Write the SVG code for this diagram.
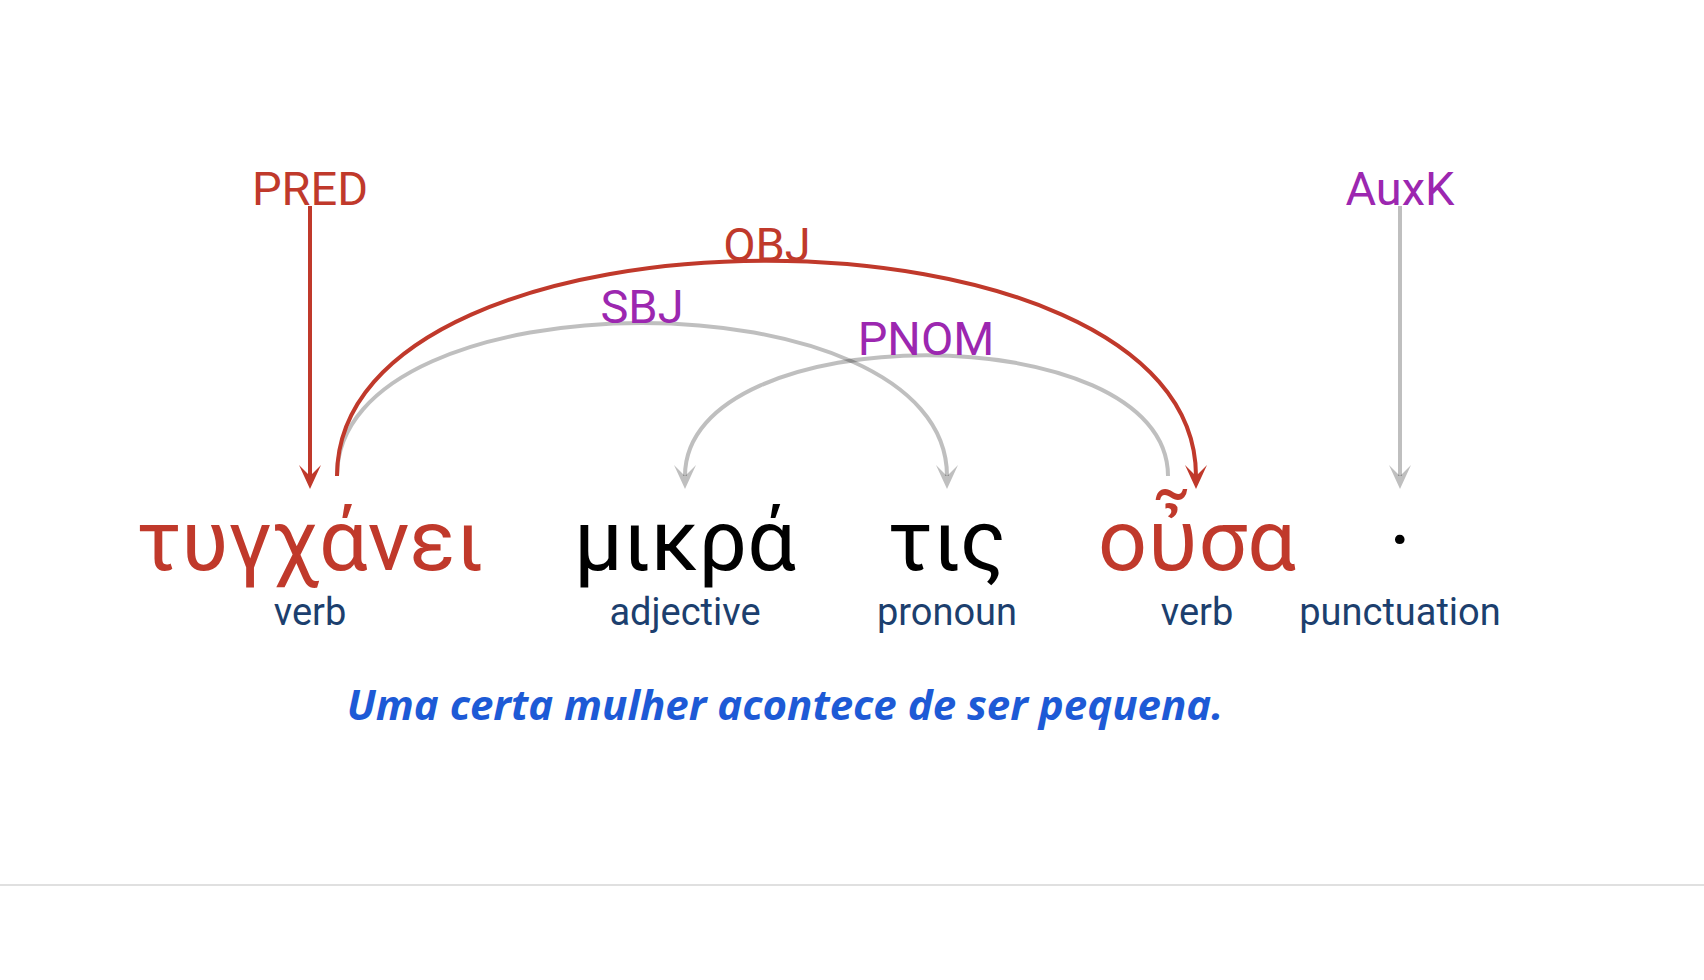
<svg xmlns="http://www.w3.org/2000/svg" width="1704" height="980" viewBox="0 0 1704 980">
<style>
  .word { font-family: Roboto, "Noto Sans", "DejaVu Sans", sans-serif; font-size: 86px; text-anchor: middle; }
  .pos { font-family: Roboto, "Noto Sans", sans-serif; font-size: 38px; fill: #1c3f6e; text-anchor: middle; }
  .rel { font-family: Roboto, "Noto Sans", sans-serif; font-size: 47px; text-anchor: middle; }
  .red { fill: #c0392b; }
  .blk { fill: #000000; }
  .purple { fill: #9c27b0; }
  .arc-red { fill: none; stroke: #c0392b; stroke-width: 4; }
  .arc-gray { fill: none; stroke: #000000; stroke-opacity: 0.25; stroke-width: 4; }
  .trans { font-family: "Open Sans", Lato, sans-serif; font-size: 42px; font-weight: bold; font-style: italic; fill: #1d5ad6; text-anchor: middle; }
</style>
<defs>
  <marker id="ah-red" markerUnits="userSpaceOnUse" orient="auto" refX="0" refY="0" markerWidth="30" markerHeight="30" overflow="visible">
    <path d="M -11 -11 L 13 0 L -11 11 L 0 0 Z" fill="#c0392b"/>
  </marker>
  <marker id="ah-gray" markerUnits="userSpaceOnUse" orient="auto" refX="0" refY="0" markerWidth="30" markerHeight="30" overflow="visible">
    <path d="M -11 -11 L 13 0 L -11 11 L 0 0 Z" fill="#000000" fill-opacity="0.25"/>
  </marker>
</defs>
<rect x="0" y="0" width="1704" height="980" fill="#ffffff"/>

<g id="connectors">
  <path class="arc-red" d="M 310 206 L 310 476" marker-end="url(#ah-red)"/>
  <path class="arc-gray" d="M 1400 206 L 1400 476" marker-end="url(#ah-gray)"/>
  <path class="arc-gray" d="M 337 476 C 337 272 947 272 947 476" marker-end="url(#ah-gray)"/>
  <path class="arc-gray" d="M 1168 476 C 1168 315 685 315 685 476" marker-end="url(#ah-gray)"/>
  <path class="arc-red" d="M 337 476 C 337 189 1196 189 1196 476" marker-end="url(#ah-red)"/>
  <text class="rel red" x="310" y="205">PRED</text>
  <text class="rel purple" x="1400" y="205">AuxK</text>
  <text class="rel red" x="767" y="261">OBJ</text>
  <text class="rel purple" x="642" y="323">SBJ</text>
  <text class="rel purple" x="926" y="355">PNOM</text>
</g>

<g id="node-1">
  <text class="word red" x="310" y="570">τυγχάνει</text>
  <text class="pos" x="310" y="625">verb</text>
</g>
<g id="node-2">
  <text class="word blk" x="685" y="570">μικρά</text>
  <text class="pos" x="685" y="625">adjective</text>
</g>
<g id="node-3">
  <text class="word blk" x="947" y="570">τις</text>
  <text class="pos" x="947" y="625">pronoun</text>
</g>
<g id="node-4">
  <text class="word red" x="1197" y="570">οὖσα</text>
  <text class="pos" x="1197" y="625">verb</text>
</g>
<g id="node-5">
  <text class="word blk" x="1400" y="570">·</text>
  <text class="pos" x="1400" y="625">punctuation</text>
</g>

<g id="translation">
  <text class="trans" x="785" y="720">Uma certa mulher acontece de ser pequena.</text>
</g>

<line x1="0" y1="885" x2="1704" y2="885" stroke="#e0e0e0" stroke-width="2"/>
</svg>
